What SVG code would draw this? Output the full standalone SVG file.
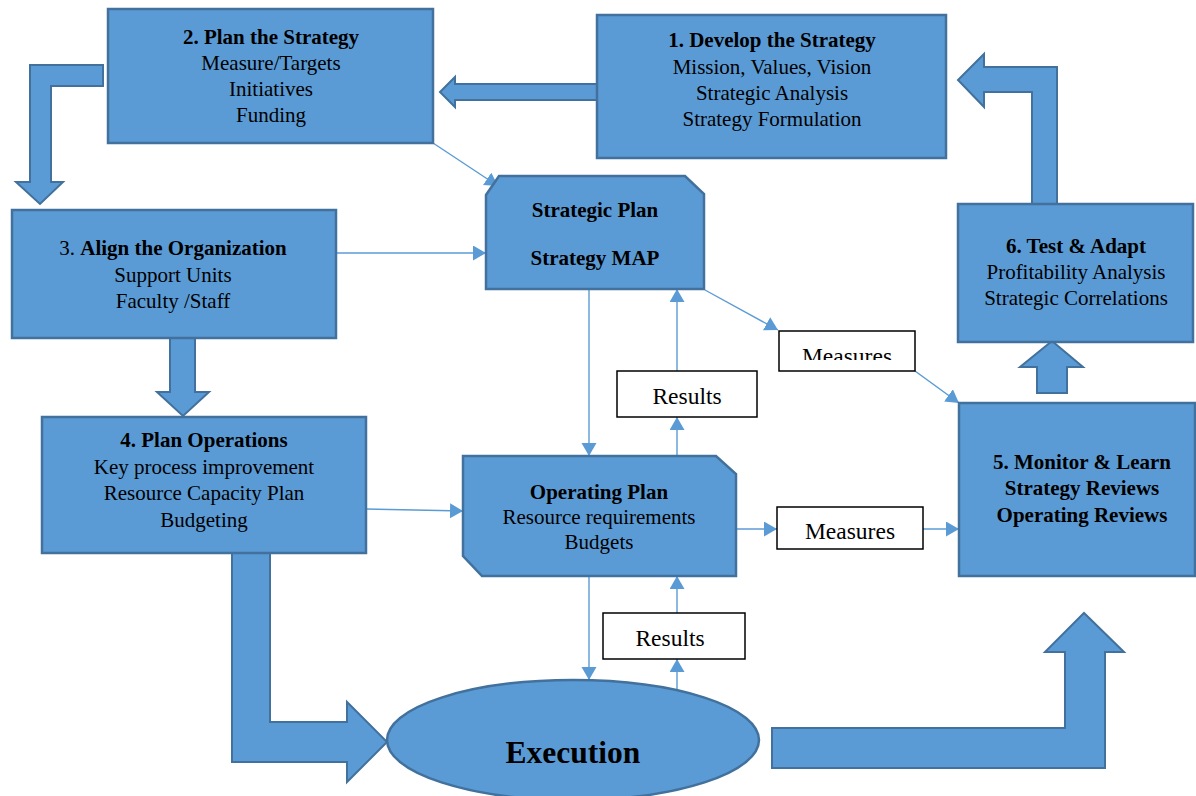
<svg xmlns="http://www.w3.org/2000/svg" width="1196" height="796" viewBox="0 0 1196 796">
<style>
.box{fill:#5B9BD5;stroke:#41719C;stroke-width:2.5}
.arr{fill:#5B9BD5;stroke:#41719C;stroke-width:2}
.wb{fill:#fff;stroke:#000;stroke-width:1.5}
.con{fill:none;stroke:#5B9BD5;stroke-width:1.4;marker-end:url(#ah)}
text{font-family:"Liberation Serif","Times New Roman",serif;fill:#000;text-anchor:middle}
.t{font-size:21px}
.b{font-weight:bold}
.s{font-size:23.5px}
</style>
<defs>
<marker id="ah" markerUnits="userSpaceOnUse" markerWidth="14" markerHeight="16" refX="13" refY="7.5" orient="auto"><path d="M0,0 L13,7.5 L0,15 z" fill="#5B9BD5"/></marker>
<clipPath id="c1"><rect x="779" y="331" width="136" height="29"/></clipPath>
<clipPath id="c2"><rect x="777" y="507" width="146" height="32"/></clipPath>
</defs>
<g id="big-arrows">
<polygon class="arr" points="103,65 30,65 30,182 16,182 40,204 63,182 51,182 51,86 103,86"/>
<polygon class="arr" points="597,84 455,84 455,77 440,92 455,107 455,100 597,100"/>
<polygon class="arr" points="170,336 195,336 195,392 209,392 183,416 157,392 170,392"/>
<polygon class="arr" points="1032,204 1032,92 984,92 984,107 958,80 984,54 984,67 1057,67 1057,204"/>
<polygon class="arr" points="1037,393 1037,367 1020,367 1052,341 1083,367 1067,367 1067,393"/>
<polygon class="arr" points="232,551 270,551 270,722 347,722 347,702 387,742 347,782 347,762 232,762"/>
<polygon class="arr" points="772,728 1065,728 1065,652 1045,652 1084,613 1124,652 1105,652 1105,768 772,768"/>
</g>
<g id="connectors">
<path class="con" d="M433,143 L498,186"/>
<path class="con" d="M336,253 L486,253"/>
<path class="con" d="M366,509 L463,511"/>
<path class="con" d="M589,289 L589,456"/>
<path class="con" d="M677,371 L677,289"/>
<path class="con" d="M677,456 L677,417"/>
<path class="con" d="M705,290 L778,330"/>
<path class="con" d="M915,371 L959,403"/>
<path class="con" d="M736,529 L777,529"/>
<path class="con" d="M923,529 L959,529"/>
<path class="con" d="M589,576 L589,680"/>
<path class="con" d="M677,692 L677,659"/>
<path class="con" d="M677,613 L677,576"/>
</g>
<g id="n1">
<rect class="box" x="597" y="15" width="349" height="143"/>
<text class="t b" x="772" y="47">1. Develop the Strategy</text>
<text class="t" x="772" y="74">Mission, Values, Vision</text>
<text class="t" x="772" y="100">Strategic Analysis</text>
<text class="t" x="772" y="126">Strategy Formulation</text>
</g>
<g id="n2">
<rect class="box" x="108" y="9" width="325" height="134"/>
<text class="t b" x="271" y="44">2. Plan the Strategy</text>
<text class="t" x="271" y="70">Measure/Targets</text>
<text class="t" x="271" y="96">Initiatives</text>
<text class="t" x="271" y="122">Funding</text>
</g>
<g id="n3">
<rect class="box" x="12" y="210" width="324" height="128"/>
<text class="t" x="173" y="255">3. <tspan class="b">Align the Organization</tspan></text>
<text class="t" x="173" y="282">Support Units</text>
<text class="t" x="173" y="308">Faculty /Staff</text>
</g>
<g id="n4">
<rect class="box" x="42" y="417" width="324" height="136"/>
<text class="t b" x="204" y="447">4. Plan Operations</text>
<text class="t" x="204" y="474">Key process improvement</text>
<text class="t" x="204" y="500">Resource Capacity Plan</text>
<text class="t" x="204" y="527">Budgeting</text>
</g>
<g id="n5">
<rect class="box" x="959" y="403" width="236" height="173"/>
<text class="t b" x="1082" y="469">5. Monitor &amp; Learn</text>
<text class="t b" x="1082" y="495">Strategy Reviews</text>
<text class="t b" x="1082" y="522">Operating Reviews</text>
</g>
<g id="n6">
<rect class="box" x="958" y="204" width="235" height="138"/>
<text class="t b" x="1076" y="253">6. Test &amp; Adapt</text>
<text class="t" x="1076" y="279">Profitability Analysis</text>
<text class="t" x="1076" y="305">Strategic Correlations</text>
</g>
<g id="strategic-plan">
<polygon class="box" points="499,176 685,176 704,194 704,289 486,289 486,195"/>
<text class="t b" x="595" y="217">Strategic Plan</text>
<text class="t b" x="595" y="265">Strategy MAP</text>
</g>
<g id="operating-plan">
<polygon class="box" points="463,456 716,456 736,474 736,576 482,576 463,556"/>
<text class="t b" x="599" y="499">Operating Plan</text>
<text class="t" x="599" y="524">Resource requirements</text>
<text class="t" x="599" y="549">Budgets</text>
</g>
<g id="results1">
<rect class="wb" x="617" y="371" width="140" height="46"/>
<text class="s" x="687" y="404">Results</text>
</g>
<g id="results2">
<rect class="wb" x="603" y="613" width="142" height="46"/>
<text class="s" x="670" y="646">Results</text>
</g>
<g id="measures1">
<rect class="wb" x="779" y="331" width="136" height="40"/>
<text class="s" x="847" y="364" clip-path="url(#c1)">Measures</text>
</g>
<g id="measures2">
<rect class="wb" x="777" y="507" width="146" height="42"/>
<text class="s" x="850" y="539" clip-path="url(#c2)">Measures</text>
</g>
<g id="execution">
<ellipse class="box" cx="573" cy="740" rx="186" ry="60"/>
<text class="b" x="573" y="763" style="font-size:31.5px">Execution</text>
</g>
</svg>
